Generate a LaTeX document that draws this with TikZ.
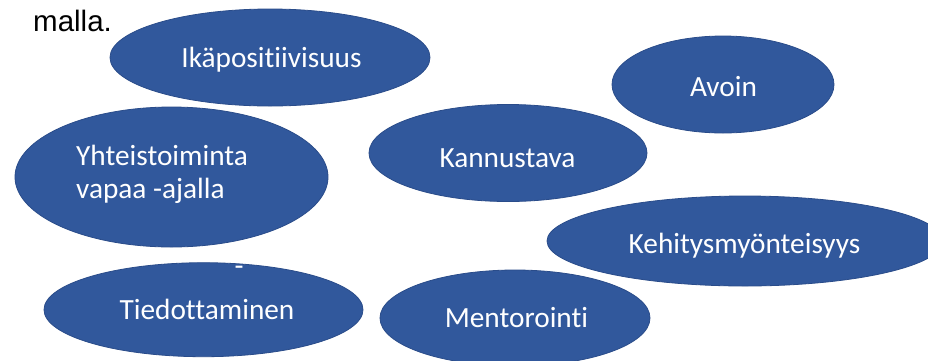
\documentclass[tikz,border=0pt]{standalone}
\usepackage{fontspec}
\setmainfont[Ligatures=NoCommon]{Carlito}
\newfontfamily\arialfont{Liberation Sans}
\usetikzlibrary{shapes.geometric}
\definecolor{bubblefill}{RGB}{49,88,156}
\definecolor{bubbleedge}{RGB}{42,76,138}
\tikzset{
  bubble/.style={ellipse, fill=bubblefill, draw=bubbleedge, line width=0.8pt, inner sep=0pt},
  btext/.style={text=white, font=\fontsize{29.3}{33}\selectfont, inner sep=0pt, anchor=center}
}
\begin{document}
\begin{tikzpicture}[x=1pt,y=-1pt]
\useasboundingbox (0,0) rectangle (928,360);
\clip (0,0) rectangle (928,360);
\fill[white] (0,0) rectangle (928,360);
\node[anchor=base west, inner sep=0pt, font=\arialfont\fontsize{29.5}{34}\selectfont] (malla) at (33,31) {malla.};
% ellipses
\node[bubble, minimum width=320, minimum height=97] (ika) at (270,57.5) {};
\node[bubble, minimum width=222, minimum height=97] (avoin) at (723,84.5) {};
\node[bubble, minimum width=313, minimum height=140] (yht) at (171.5,177) {};
\node[bubble, minimum width=278, minimum height=97] (kan) at (508,153) {};
\node[bubble, minimum width=396, minimum height=90] (keh) at (745,241) {};
\node[bubble, minimum width=319, minimum height=94] (tie) at (203.5,309.7) {};
\node[bubble, minimum width=270, minimum height=96] (men) at (515,318) {};
% texts
\node[btext] (t1) at (271.5,60) {Ikäpositiivisuus};
\node[btext] (t2) at (723.5,87) {Avoin};
\node[btext, align=left, anchor=west] (t3) at (76,174) {Yhteistoiminta\\vapaa -ajalla};
\node[btext] (t4) at (507.5,158) {Kannustava};
\node[btext] (t5) at (744.5,246) {Kehitysmyönteisyys};
\node[btext] (t6) at (207,309) {Tiedottaminen};
\node[btext] (t7) at (516.5,318) {Mentorointi};
\node[btext] (t8) at (239,271) {-};
\end{tikzpicture}
\end{document}
